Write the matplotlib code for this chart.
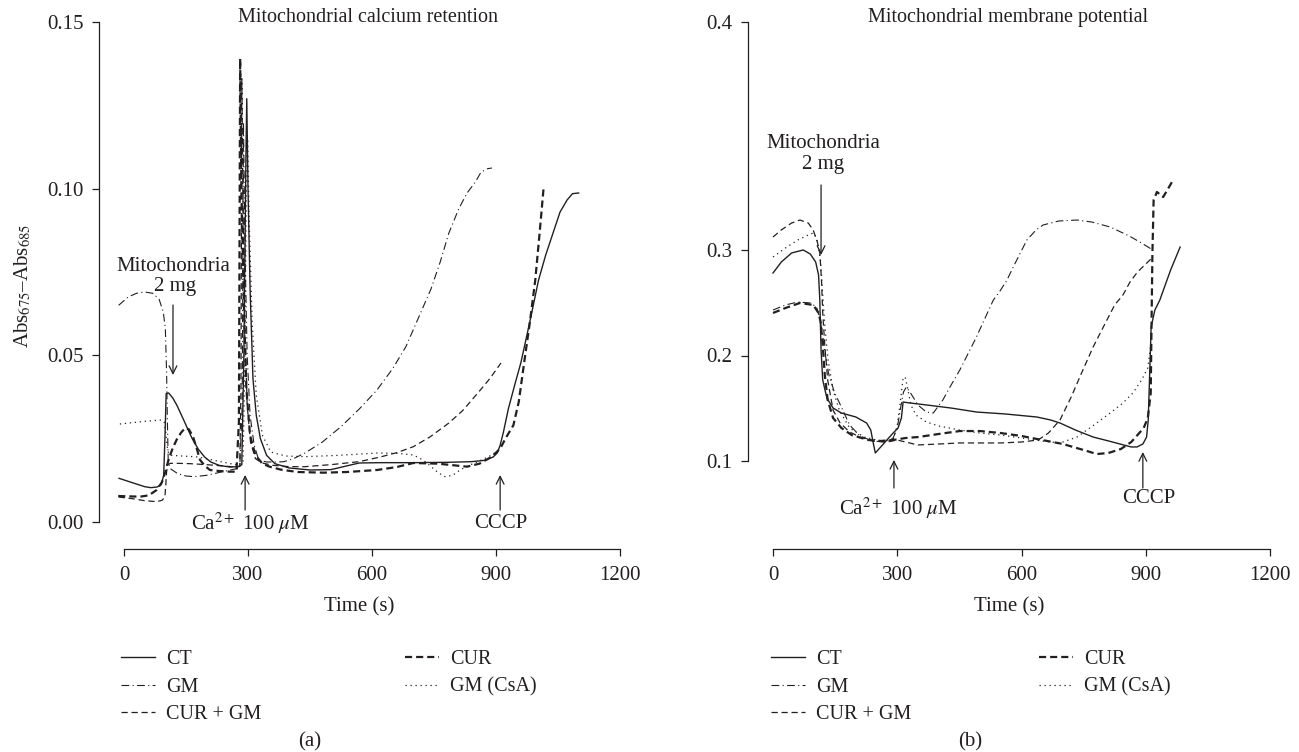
import matplotlib
matplotlib.use("Agg")
import matplotlib.pyplot as plt
from matplotlib.lines import Line2D
import matplotlib.transforms as mtransforms

plt.rcParams['font.family'] = ['Liberation Serif', 'DejaVu Serif']
plt.rcParams['mathtext.fontset'] = 'stix'
INK = '#231f20'

# ---------------- Panel (a): mitochondrial calcium retention ----------------
a_ct_t = [-12, 20, 50, 65, 80, 90, 96, 99, 102, 108, 118, 128, 140, 152, 165, 180, 195, 210, 230, 255, 278, 285,
          290, 295, 297, 300, 305, 312, 320, 330, 345, 365, 400, 450, 500, 569, 620, 700, 780, 840, 873, 893, 903,
          910, 918, 930, 945, 960, 980, 1003, 1020, 1038, 1055, 1072, 1085, 1100]
a_ct_v = [0.0131, 0.0118, 0.0106, 0.0103, 0.0105, 0.0112, 0.0140, 0.0250, 0.0385, 0.0387, 0.0372, 0.0350, 0.0318,
          0.0285, 0.0250, 0.0218, 0.0195, 0.0180, 0.0170, 0.0165, 0.0166, 0.0172,
          0.050, 0.110, 0.127, 0.100, 0.070, 0.043, 0.032, 0.025, 0.020, 0.0175, 0.0162, 0.0156, 0.0157, 0.0177,
          0.0178, 0.0178, 0.0179, 0.0181, 0.0185, 0.0195, 0.0207,
          0.023, 0.027, 0.034, 0.041, 0.0477, 0.059, 0.0726, 0.080, 0.0867, 0.0930, 0.0966, 0.0985, 0.0987]

a_gm_t = [-13, 10, 30, 50, 70, 85, 95, 100, 103, 105, 107, 112, 130, 150, 170, 200, 235, 265, 280, 286, 289, 293,
          298, 305, 315, 326, 345, 370, 387, 410, 438, 480, 525, 570, 612, 650, 682, 715, 743, 765, 786, 810, 830,
          850, 864, 880, 890]
a_gm_v = [0.065, 0.0675, 0.0686, 0.0690, 0.0686, 0.0668, 0.0630, 0.0580, 0.045, 0.030, 0.018, 0.0160, 0.0145,
          0.0138, 0.0136, 0.0140, 0.0150, 0.0158, 0.0162, 0.035, 0.120, 0.080, 0.050, 0.032, 0.023, 0.0186, 0.0180,
          0.0180, 0.0181, 0.0190, 0.0207, 0.0240, 0.0286, 0.0340, 0.0396, 0.0460, 0.0526, 0.0620, 0.0700, 0.078,
          0.0867, 0.094, 0.0987, 0.102, 0.105, 0.1060, 0.1062]

a_curgm_t = [-13, 20, 50, 79, 92, 99, 101, 103, 106, 112, 130, 160, 200, 240, 270, 280, 283, 285, 288, 292, 298,
             306, 318, 334, 360, 400, 438, 500, 569, 620, 660, 700, 740, 786, 820, 856, 885, 912]
a_curgm_v = [0.0075, 0.0070, 0.0064, 0.0061, 0.0065, 0.0075, 0.0110, 0.0150, 0.0172, 0.0176, 0.0176, 0.0175,
             0.0172, 0.0168, 0.0165, 0.0168, 0.040, 0.133, 0.095, 0.060, 0.035, 0.024, 0.019, 0.0177, 0.0170,
             0.0166, 0.0166, 0.0172, 0.0181, 0.0195, 0.0208, 0.0226, 0.0255, 0.0297, 0.0335, 0.0387, 0.0430, 0.0477]

a_cur_t = [-14, 10, 39, 60, 79, 92, 100, 103, 110, 118, 127, 138, 148, 157, 167, 176, 184, 196, 208, 230, 255, 272,
           278, 281, 284, 290, 296, 305, 318, 335, 352, 380, 420, 482, 540, 612, 660, 700, 760, 830, 860, 890, 910,
           925, 942, 955, 968, 982, 995, 1005, 1015]
a_cur_v = [0.0078, 0.0077, 0.0076, 0.0080, 0.0096, 0.0120, 0.0150, 0.0166, 0.0195, 0.0222, 0.0246, 0.0268, 0.0282,
           0.0278, 0.0256, 0.0220, 0.0186, 0.0168, 0.0156, 0.0153, 0.0151, 0.0151, 0.030, 0.139, 0.100, 0.065,
           0.040, 0.026, 0.020, 0.0175, 0.0166, 0.0157, 0.0150, 0.0148, 0.0150, 0.0156, 0.0165, 0.0177, 0.0175,
           0.0166, 0.0175, 0.0196, 0.022, 0.0255, 0.0290, 0.036, 0.0477, 0.060, 0.0726, 0.086, 0.100]

a_csa_t = [-10, 20, 50, 80, 91, 97, 101, 104, 108, 115, 140, 180, 230, 270, 288, 292, 296, 299, 303, 310, 320, 335,
           355, 390, 438, 520, 612, 660, 700, 725, 743, 760, 777, 795, 813, 835, 856, 875, 890, 905]
a_csa_v = [0.0294, 0.0298, 0.0302, 0.0305, 0.0306, 0.0300, 0.0270, 0.0230, 0.0205, 0.0200, 0.0198, 0.0195, 0.0182,
           0.0172, 0.0175, 0.045, 0.100, 0.115, 0.090, 0.060, 0.038, 0.026, 0.021, 0.0198, 0.0196, 0.0200, 0.0207,
           0.0206, 0.0201, 0.0185, 0.0166, 0.0148, 0.0136, 0.0140, 0.0156, 0.0170, 0.0181, 0.0192, 0.0201, 0.0215]

# ---------------- Panel (b): mitochondrial membrane potential ----------------
b_ct_t = [0, 20, 45, 73, 90, 103, 110, 113, 116, 120, 130, 145, 165, 200, 226, 236, 243, 247, 258, 275, 290, 302,
          310, 314, 330, 371, 430, 492, 560, 637, 670, 693, 730, 773, 810, 838, 865, 879, 893, 902, 906, 909, 913,
          922, 934, 960, 983]
b_ct_v = [0.2782, 0.2886, 0.2972, 0.3000, 0.2962, 0.2886, 0.2763, 0.2526, 0.2052, 0.1768, 0.1597, 0.1502, 0.1455,
          0.1417, 0.1360, 0.1294, 0.1152, 0.1076, 0.1124, 0.1199, 0.1265, 0.1313, 0.1408, 0.1559, 0.1550, 0.1531,
          0.1502, 0.1464, 0.1446, 0.1417, 0.1389, 0.1360, 0.1294, 0.1227, 0.1190, 0.1161, 0.1133, 0.1133, 0.1161,
          0.1227, 0.1389, 0.1768, 0.2270, 0.2431, 0.2526, 0.2810, 0.3028]

b_gm_t = [0, 30, 60, 90, 105, 113, 118, 125, 135, 148, 165, 185, 210, 240, 270, 290, 300, 308, 315, 322, 332, 350,
          370, 387, 410, 430, 451, 490, 532, 548, 565, 580, 613, 635, 652, 690, 734, 770, 814, 860, 890, 917]
b_gm_v = [0.2431, 0.2479, 0.2507, 0.2498, 0.2460, 0.2355, 0.2242, 0.2033, 0.1815, 0.1654, 0.1512, 0.1341, 0.1237,
          0.1190, 0.1180, 0.1218, 0.1313, 0.1502, 0.1654, 0.1701, 0.1645, 0.1531, 0.1464, 0.1455, 0.1578, 0.1720,
          0.1862, 0.2166, 0.2526, 0.2611, 0.2716, 0.2839, 0.3095, 0.3189, 0.3237, 0.3275, 0.3284, 0.3265, 0.3218,
          0.3133, 0.3066, 0.3000]

b_curgm_t = [0, 20, 45, 65, 85, 97, 107, 113, 117, 120, 125, 132, 145, 162, 185, 210, 240, 275, 300, 320, 350, 400,
             450, 500, 550, 600, 640, 665, 693, 720, 745, 773, 800, 825, 845, 862, 880, 900, 915]
b_curgm_v = [0.3123, 0.3190, 0.3256, 0.3284, 0.3256, 0.3190, 0.3076, 0.2972, 0.2716, 0.2403, 0.2100, 0.1768,
             0.1483, 0.1360, 0.1275, 0.1227, 0.1190, 0.1180, 0.1199, 0.1180, 0.1152, 0.1161, 0.1171, 0.1171, 0.1171,
             0.1180, 0.1199, 0.1265, 0.1389, 0.1607, 0.1834, 0.2081, 0.2289, 0.2479, 0.2574, 0.2697, 0.2791,
             0.2867, 0.2924]

b_cur_t = [0, 30, 65, 97, 110, 115, 120, 125, 132, 145, 165, 190, 230, 260, 290, 320, 350, 400, 451, 500, 550, 600,
           650, 700, 750, 782, 810, 840, 865, 880, 895, 905, 912, 914, 916, 919, 927, 942, 955, 966]
b_cur_v = [0.2403, 0.2450, 0.2498, 0.2479, 0.2403, 0.2318, 0.2100, 0.1815, 0.1578, 0.1408, 0.1313, 0.1246, 0.1199,
           0.1190, 0.1199, 0.1218, 0.1227, 0.1256, 0.1284, 0.1284, 0.1265, 0.1237, 0.1199, 0.1161, 0.1104, 0.1066,
           0.1076, 0.1114, 0.1180, 0.1246, 0.1313, 0.1408, 0.1645, 0.2308, 0.2953, 0.3474, 0.3550, 0.3502, 0.3588,
           0.3664]

b_csa_t = [0, 30, 60, 85, 97, 105, 110, 115, 120, 125, 133, 145, 160, 185, 220, 260, 290, 300, 308, 314, 319, 325,
           333, 345, 370, 400, 450, 500, 550, 600, 650, 693, 734, 775, 814, 845, 869, 890, 905, 912]
b_csa_v = [0.2934, 0.3019, 0.3095, 0.3142, 0.3161, 0.3114, 0.3028, 0.2886, 0.2573, 0.2289, 0.1957, 0.1673, 0.1483,
           0.1313, 0.1227, 0.1190, 0.1199, 0.1341, 0.1578, 0.1787, 0.1796, 0.1692, 0.1531, 0.1436, 0.1370, 0.1332,
           0.1294, 0.1265, 0.1246, 0.1218, 0.1190, 0.1171, 0.1227, 0.1341, 0.1455, 0.1550, 0.1645, 0.1768, 0.1882,
           0.2100]

legend_labels = ['CT', 'GM', 'CUR + GM', 'CUR', 'GM (CsA)']
panel_titles = ['Mitochondrial calcium retention', 'Mitochondrial membrane potential']
panel_letters = ['(a)', '(b)']

a_yticks = [0.00, 0.05, 0.10, 0.15]
a_yticklabels = ['0.00', '0.05', '0.10', '0.15']
b_yticks = [0.1, 0.2, 0.3, 0.516]
b_yticklabels = ['0.1', '0.2', '0.3', '0.4']
xticks = [0, 300, 600, 900, 1200]

styles = {
    'CT': dict(ls='-', lw=1.0),
    'GM': dict(ls=(0, (7, 3, 1, 3)), lw=0.8),
    'CUR + GM': dict(ls=(0, (5, 3)), lw=0.9),
    'CUR': dict(ls=(0, (3.2, 1.8)), lw=1.6),
    'GM (CsA)': dict(ls=(0, (1, 3)), lw=0.9),
}

W, H = 1299, 752
fig = plt.figure(figsize=(W / 100, H / 100), dpi=100)
FS = 15
LFS = 14.5


def px_axes(x0, y0, x1, y1):
    return fig.add_axes([x0 / W, 1 - y1 / H, (x1 - x0) / W, (y1 - y0) / H])


axA = px_axes(99, 22, 620, 549)
axB = px_axes(748, 22, 1270, 549)

axA.set_xlim(-60.5, 1200)
axA.set_ylim(-0.0081, 0.15)
axB.set_xlim(-60.4, 1200)
axB.set_ylim(0.3 - 299 / 1055, 0.3 + 228 / 1055)

series_a = [('CT', a_ct_t, a_ct_v), ('GM', a_gm_t, a_gm_v), ('CUR + GM', a_curgm_t, a_curgm_v),
            ('CUR', a_cur_t, a_cur_v), ('GM (CsA)', a_csa_t, a_csa_v)]
series_b = [('CT', b_ct_t, b_ct_v), ('GM', b_gm_t, b_gm_v), ('CUR + GM', b_curgm_t, b_curgm_v),
            ('CUR', b_cur_t, b_cur_v), ('GM (CsA)', b_csa_t, b_csa_v)]

for ax, series in ((axA, series_a), (axB, series_b)):
    for name, t, v in series:
        ax.plot(t, v, color=INK, clip_on=False, **styles[name])

for ax, yt, ytl, ybnd in ((axA, a_yticks, a_yticklabels, (0, 0.15)), (axB, b_yticks, b_yticklabels, (0.1, 0.516))):
    for s in ('top', 'right'):
        ax.spines[s].set_visible(False)
    for s in ('left', 'bottom'):
        ax.spines[s].set_color(INK)
        ax.spines[s].set_linewidth(0.9)
    ax.spines['bottom'].set_bounds(0, 1200)
    ax.spines['left'].set_bounds(*ybnd)
    ax.set_xticks(xticks)
    ax.set_xticklabels([str(x) for x in xticks])
    ax.set_yticks(yt)
    ax.set_yticklabels(ytl)
    ax.tick_params(axis='both', colors=INK, labelsize=FS, length=5, width=0.9)
    ax.tick_params(axis='x', pad=7)
    ax.tick_params(axis='y', pad=6)
    ax.patch.set_visible(False)
    ax.set_xlabel('Time (s)', fontsize=FS, color=INK, labelpad=9)

axA.set_ylabel('Abs$_{675}$–Abs$_{685}$', fontsize=FS, color=INK, labelpad=10)

# titles
for ax, title, tx in ((axA, panel_titles[0], 590), (axB, panel_titles[1], 567)):
    tr = mtransforms.blended_transform_factory(ax.transData, ax.transAxes)
    ax.text(tx, 1.0076, title, transform=tr, ha='center', va='center', fontsize=LFS, color=INK)

arrow_kw = dict(arrowstyle='->', color=INK, lw=0.9, shrinkA=0, shrinkB=0, mutation_scale=14)

# annotations panel (a)
axA.annotate('', xy=(118.5, 0.0441), xytext=(118.5, 0.0651), arrowprops=arrow_kw, annotation_clip=False)
axA.text(118.5, 0.0765, 'Mitochondria', ha='center', va='center', fontsize=FS, color=INK)
axA.text(123, 0.0705, '2 mg', ha='center', va='center', fontsize=FS, color=INK)
axA.annotate('', xy=(293, 0.0141), xytext=(293, 0.0036), arrowprops=arrow_kw, annotation_clip=False)
axA.text(305, -0.0003, 'Ca$^{2+}$ 100 $\\mu$M', ha='center', va='center', fontsize=FS, color=INK)
axA.annotate('', xy=(910, 0.0141), xytext=(910, 0.0036), arrowprops=arrow_kw, annotation_clip=False)
axA.text(912, -0.0003, 'CCCP', ha='center', va='center', fontsize=FS, color=INK)

# annotations panel (b)
axB.annotate('', xy=(116, 0.2953), xytext=(116, 0.3616), arrowprops=arrow_kw, annotation_clip=False)
axB.text(121, 0.4014, 'Mitochondria', ha='center', va='center', fontsize=FS, color=INK)
axB.text(121, 0.3806, '2 mg', ha='center', va='center', fontsize=FS, color=INK)
axB.annotate('', xy=(292, 0.101), xytext=(292, 0.0744), arrowprops=arrow_kw, annotation_clip=False)
axB.text(302, 0.0555, 'Ca$^{2+}$ 100 $\\mu$M', ha='center', va='center', fontsize=FS, color=INK)
axB.annotate('', xy=(893, 0.1085), xytext=(893, 0.0744), arrowprops=arrow_kw, annotation_clip=False)
axB.text(908, 0.0649, 'CCCP', ha='center', va='center', fontsize=FS, color=INK)

# legends
handles = {n: Line2D([], [], color=INK, **styles[n]) for n in legend_labels}
leg_kw = dict(loc='upper left', frameon=False, fontsize=LFS, handlelength=1.7, handletextpad=0.55,
              labelspacing=0.42, borderpad=0, borderaxespad=0, bbox_transform=fig.transFigure)
for x0, dx in ((121, 284), (771, 268)):
    col1 = legend_labels[:3]
    col2 = legend_labels[3:]
    l1 = fig.legend([handles[n] for n in col1], col1, bbox_to_anchor=(x0 / W, 1 - 650 / H), **leg_kw)
    l2 = fig.legend([handles[n] for n in col2], col2, bbox_to_anchor=((x0 + dx) / W, 1 - 650 / H), **leg_kw)
    for l in (l1, l2):
        for txt in l.get_texts():
            txt.set_color(INK)

fig.text(310 / W, 1 - 742 / H, panel_letters[0], ha='center', va='center', fontsize=FS, color=INK)
fig.text(970 / W, 1 - 742 / H, panel_letters[1], ha='center', va='center', fontsize=FS, color=INK)

fig.savefig('out.png', dpi=100, facecolor='white')
